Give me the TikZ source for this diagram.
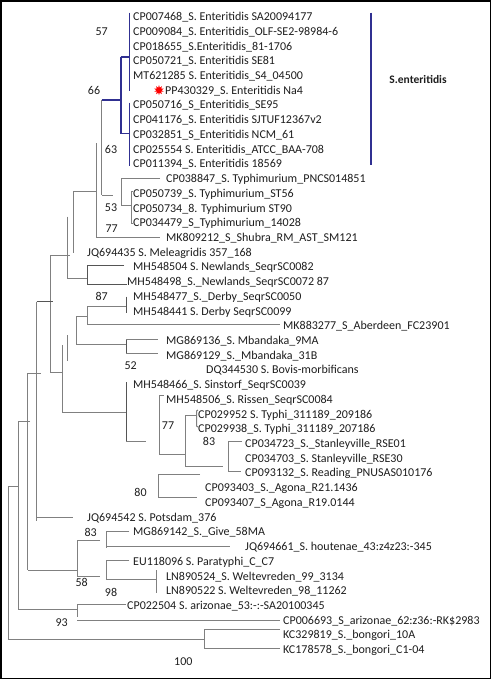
\documentclass[tikz,border=0pt]{standalone}
\usepackage{fontspec}
\setmainfont{Carlito}
\usetikzlibrary{shapes.geometric}
\definecolor{treegrey}{RGB}{128,128,128}
\definecolor{treedark}{RGB}{85,85,85}
\definecolor{enblue}{RGB}{48,48,145}
\definecolor{txt}{RGB}{30,30,30}
\begin{document}
\begin{tikzpicture}[x=1pt,y=-1pt,
  tree/.style={draw=treegrey, line width=1pt},
  treedk/.style={draw=treedark, line width=1pt},
  enbr/.style={draw=enblue, line width=1.6pt},
  lbl/.style={anchor=base west, inner sep=0pt, text=txt, font=\fontsize{12}{14}\selectfont},
  bs/.style={anchor=base, inner sep=0pt, text=txt, font=\fontsize{12}{14}\selectfont}]
\useasboundingbox (0,0) rectangle (494,680);
\fill[white] (0,0) rectangle (494,680);
\draw[black, line width=1.5pt] (0.75,0.75) rectangle (490.5,678.5);

% ---- Enteritidis clade (blue)
\draw[enbr] (129.3,12.7) -- (129.3,90.7);
\draw[enbr] (120.7,56.7) -- (129.3,56.7);
\draw[enbr] (120.7,56.7) -- (120.7,133.3) -- (129.3,133.3);
\draw[enbr] (129.3,102.7) -- (129.3,166);
\draw[enbr] (101.7,100) -- (120.7,100);
\draw[enbr, line width=2pt] (371,12.7) -- (371,165);

% ---- upper grey part
\draw[tree] (101.7,100) -- (101.7,195);
\draw[tree] (102,195.5) -- (113,195.5);
\draw[tree] (96.7,143) -- (96.7,237) -- (160,237);
\draw[tree] (160,178) -- (121.7,178) -- (121.7,205) -- (131,205);
\draw[tree] (133,191) -- (131,191) -- (131,223) -- (133,223);
\draw[tree] (73.3,191.7) -- (96.7,191.7);
\draw[tree] (73.3,191.7) -- (73.3,253.3);
\draw[tree] (67.7,216.7) -- (67.7,278.3) -- (87.3,278.3);
\draw[treedk] (124,265) -- (87.3,265) -- (87.3,284) -- (126.7,284);
\draw[tree] (50.7,255) -- (70,255);
\draw[tree] (50.7,255) -- (50.7,372.3) -- (63.3,372.3);
\draw[treedk] (36.7,301.7) -- (52.7,301.7);
\draw[tree] (36.7,301.7) -- (36.7,520.7);

% ---- Derby / Aberdeen / Mbandaka
\draw[treedk] (126,296.7) -- (126,313.3);
\draw[tree] (126,306) -- (87.3,306) -- (87.3,324) -- (280,324);
\draw[tree] (87.3,316.7) -- (76,316.7) -- (76,344) -- (126,344);
\draw[treedk] (126,339) -- (126,353);
\draw[tree] (126,339) -- (158.3,339);
\draw[tree] (126,353) -- (158.3,353);
\draw[tree] (67.7,335) -- (67.7,360.7);
\draw[tree] (62.7,345) -- (62.7,412.3) -- (126,412.3);

% ---- Sinstorf / Rissen / Typhi / Stanleyville / Agona
\draw[treedk] (126,382) -- (126,441);
\draw[tree] (126,441) -- (146,441);
\draw[tree] (164,395) -- (159.3,395) -- (159.3,455);
\draw[tree] (159.3,454) -- (185,454);
\draw[tree] (185,415) -- (185,466.7) -- (222.7,466.7);
\draw[tree] (185,415) -- (196.5,415);
\draw[tree] (198,410) -- (196.5,411) -- (196.5,426) -- (198,427);
\draw[tree] (242,441.7) -- (228.3,441.7) -- (228.3,471.7) -- (241,471.7);
\draw[tree] (200,474) -- (158.5,474) -- (158.5,497.3) -- (196.7,497.3);

% ---- backbone
\draw[tree] (40.7,373.3) -- (27.7,373.3) -- (27.7,570);
\draw[tree] (30,421) -- (18.3,421) -- (18.3,609.3);
\draw[tree] (18.3,486.7) -- (8.3,486.7) -- (8.3,639.3);
\draw[tree] (36.7,517.3) -- (73.3,517.3);

% ---- Give / houtenae / Paratyphi / Weltevreden
\draw[tree] (28.3,570) -- (77.3,570);
\draw[tree] (100,540) -- (77.3,540) -- (77.3,576) -- (100,576);
\draw[tree] (129.3,531.7) -- (106.7,531.7) -- (106.7,548.3);
\draw[tree] (106.7,546.7) -- (230,546.7);
\draw[tree] (129.3,560.7) -- (106.7,560.7) -- (106.7,579.3) -- (156,579.3);
\draw[tree] (156,570) -- (156,593.3);

% ---- arizonae / bongori
\draw[tree] (18.3,609.3) -- (77.3,609.3);
\draw[tree] (126,604) -- (77.3,604) -- (77.3,617.3);
\draw[tree] (77.3,620) -- (280,620);
\draw[tree] (8.3,639.3) -- (204,639.3);
\draw[tree] (280,629.3) -- (204,629.3) -- (204,648.3) -- (280,648.3);

% ---- labels
\node[lbl] (l1) at (133,20.6) {CP007468\_S. Enteritidis SA20094177};
\node[lbl] (l2) at (133,35.3) {CP009084\_S. Enteritidis\_OLF-SE2-98984-6};
\node[lbl] (l3) at (133,50.0) {CP018655\_S.Enteritidis\_81-1706};
\node[lbl] (l4) at (133,64.8) {CP050721\_S. Enteritidis SE81};
\node[lbl] (l5) at (133,79.5) {MT621285 S. Enteritidis\_S4\_04500};
\node[star, star points=10, star point ratio=1.9, fill=red, draw=none, inner sep=0pt, minimum size=10pt] (mark) at (159,90.2) {};
\node[lbl] (l6) at (165,94.2) {PP430329\_S. Enteritidis Na4};
\node[lbl] (l7) at (133,108.9) {CP050716\_S\_Enteritidis\_SE95};
\node[lbl] (l8) at (133,123.6) {CP041176\_S. Enteritidis SJTUF12367v2};
\node[lbl] (l9) at (133,138.4) {CP032851\_S\_Enteritidis NCM\_61};
\node[lbl] (l10) at (133,153.1) {CP025554 S. Enteritidis\_ATCC\_BAA-708};
\node[lbl] (l11) at (133,167.8) {CP011394\_S. Enteritidis 18569};
\node[lbl] (l12) at (166,182.5) {CP038847\_S. Typhimurium\_PNCS014851};
\node[lbl] (l13) at (133,197.2) {CP050739\_S. Typhimurium\_ST56};
\node[lbl] (l14) at (133,212.0) {CP050734\_8. Typhimurium ST90};
\node[lbl] (l15) at (133,226.7) {CP034479\_S\_Typhimurium\_14028};
\node[lbl] (l16) at (166,241.4) {MK809212\_S\_Shubra\_RM\_AST\_SM121};
\node[lbl] (l17) at (87,256.1) {JQ694435 S. Meleagridis 357\_168};
\node[lbl] (l18) at (133,270.8) {MH548504 S. Newlands\_SeqrSC0082};
\node[lbl] (l19) at (127,285.6) {MH548498\_S.\_Newlands\_SeqrSC0072 87};
\node[lbl] (l20) at (133,300.3) {MH548477\_S.\_Derby\_SeqrSC0050};
\node[lbl] (l21) at (133,315.0) {MH548441 S. Derby SeqrSC0099};
\node[lbl] (l22) at (283,329.7) {MK883277\_S\_Aberdeen\_FC23901};
\node[lbl] (l23) at (166,344.4) {MG869136\_S. Mbandaka\_9MA};
\node[lbl] (l24) at (166,359.2) {MG869129\_S.\_Mbandaka\_31B};
\node[lbl] (l25) at (206,373.9) {DQ344530 S. Bovis-morbificans};
\node[lbl] (l26) at (133,388.6) {MH548466\_S. Sinstorf\_SeqrSC0039};
\node[lbl] (l27) at (166,403.3) {MH548506\_S. Rissen\_SeqrSC0084};
\node[lbl] (l28) at (198,418.0) {CP029952 S. Typhi\_311189\_209186};
\node[lbl] (l29) at (198,432.8) {CP029938\_S. Typhi\_311189\_207186};
\node[lbl] (l30) at (245,447.5) {CP034723\_S.\_Stanleyville\_RSE01};
\node[lbl] (l31) at (245,462.2) {CP034703\_S. Stanleyville\_RSE30};
\node[lbl] (l32) at (245,476.9) {CP093132\_S. Reading\_PNUSAS010176};
\node[lbl] (l33) at (205,491.6) {CP093403\_S.\_Agona\_R21.1436};
\node[lbl] (l34) at (205,506.4) {CP093407\_S\_Agona\_R19.0144};
\node[lbl] (l35) at (87,521.1) {JQ694542 S. Potsdam\_376};
\node[lbl] (l36) at (133,535.8) {MG869142\_S.\_Give\_58MA};
\node[lbl] (l37) at (245,550.5) {JQ694661\_S. houtenae\_43:z4z23:-345};
\node[lbl] (l38) at (133,565.2) {EU118096 S. Paratyphi\_C\_C7};
\node[lbl] (l39) at (166,580.0) {LN890524\_S. Weltevreden\_99\_3134};
\node[lbl] (l40) at (166,594.7) {LN890522 S. Weltevreden\_98\_11262};
\node[lbl] (l41) at (127,609.4) {CP022504 S. arizonae\_53:-:-SA20100345};
\node[lbl] (l42) at (283,624.1) {CP006693\_S\_arizonae\_62:z36:-RK\$2983};
\node[lbl] (l43) at (283,638.8) {KC329819\_S.\_bongori\_10A};
\node[lbl] (l44) at (283,653.6) {KC178578\_S.\_bongori\_C1-04};

\node[bs, font=\fontsize{11.5}{14}\selectfont\bfseries] (clade) at (418,83) {S.enteritidis};

% ---- bootstrap values
\node[bs] (b57) at (101.7,35.7) {57};
\node[bs] (b66) at (94,94) {66};
\node[bs] (b63) at (111,153.3) {63};
\node[bs] (b53) at (111,211.7) {53};
\node[bs] (b77a) at (111.7,232.3) {77};
\node[bs] (b87) at (101.7,300) {87};
\node[bs] (b52) at (130.7,369.7) {52};
\node[bs] (b77b) at (168,429) {77};
\node[bs] (b83a) at (209,445) {83};
\node[bs] (b80) at (140.5,496) {80};
\node[bs] (b83b) at (90.7,536.7) {83};
\node[bs] (b58) at (81.7,586.3) {58};
\node[bs] (b98) at (111,596.3) {98};
\node[bs] (b93) at (61.7,626.3) {93};
\node[bs] (b100) at (183.3,665.7) {100};
\end{tikzpicture}
\end{document}
